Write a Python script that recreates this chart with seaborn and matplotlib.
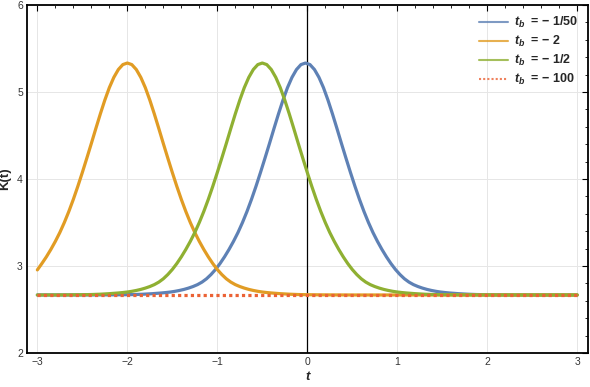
import matplotlib
matplotlib.use('Agg')
import matplotlib.pyplot as plt
import seaborn as sns
from matplotlib.ticker import MultipleLocator

# valores, um par (t, K) por ponto
t_tb_1_50 = [-3.0, -2.52, -2.22, -2.02, -1.92, -1.82, -1.72,
             -1.62, -1.57, -1.52, -1.47, -1.42, -1.37, -1.32, -1.27, -1.22, -1.17,
             -1.12, -1.07, -1.02, -0.97, -0.92, -0.87, -0.82, -0.77, -0.72, -0.67,
             -0.62, -0.57, -0.52, -0.47, -0.42, -0.37, -0.32, -0.27, -0.22, -0.17,
             -0.12, -0.07, -0.02, 0.03, 0.08, 0.13, 0.18, 0.23, 0.28, 0.33,
             0.38, 0.43, 0.48, 0.53, 0.58, 0.63, 0.68, 0.73, 0.78, 0.83,
             0.88, 0.93, 0.98, 1.03, 1.08, 1.13, 1.18, 1.23, 1.28, 1.33,
             1.38, 1.43, 1.48, 1.53, 1.58,
             1.68, 1.78, 1.88, 1.98, 2.18, 2.48, 3.0]
k_tb_1_50 = [2.667, 2.667, 2.668, 2.670, 2.672, 2.676, 2.682,
             2.690, 2.695, 2.701, 2.709, 2.719, 2.731, 2.746, 2.764, 2.786, 2.815,
             2.853, 2.902, 2.960, 3.028, 3.105, 3.190, 3.283, 3.385, 3.500, 3.627,
             3.766, 3.916, 4.075, 4.240, 4.408, 4.580, 4.748, 4.907, 5.050, 5.168,
             5.258, 5.315, 5.333, 5.315, 5.258, 5.168, 5.050, 4.907, 4.748, 4.580,
             4.408, 4.240, 4.075, 3.916, 3.766, 3.627, 3.500, 3.385, 3.283, 3.190,
             3.105, 3.028, 2.960, 2.902, 2.853, 2.815, 2.786, 2.764, 2.746, 2.731,
             2.719, 2.709, 2.701, 2.695, 2.690,
             2.682, 2.676, 2.672, 2.670, 2.668, 2.667, 2.667]

t_tb_2 = [-3.00, -2.95, -2.90, -2.85, -2.80, -2.75, -2.70, -2.65, -2.60, -2.55,
          -2.50, -2.45, -2.40, -2.35, -2.30, -2.25, -2.20, -2.15, -2.10, -2.05,
          -2.00, -1.95, -1.90, -1.85, -1.80, -1.75, -1.70, -1.65, -1.60, -1.55,
          -1.50, -1.45, -1.40, -1.35, -1.30, -1.25, -1.20, -1.15, -1.10, -1.05,
          -1.00, -0.95, -0.90, -0.85, -0.80, -0.75, -0.70, -0.65, -0.60, -0.55,
          -0.50, -0.45, -0.40,
          -0.30, -0.20, -0.10, 0.00, 0.20, 0.50, 3.00]
k_tb_2 = [2.955, 3.028, 3.105, 3.190, 3.283, 3.385, 3.500, 3.627, 3.766, 3.916,
          4.075, 4.240, 4.408, 4.580, 4.748, 4.907, 5.050, 5.168, 5.258, 5.315,
          5.333, 5.315, 5.258, 5.168, 5.050, 4.907, 4.748, 4.580, 4.408, 4.240,
          4.075, 3.916, 3.766, 3.627, 3.500, 3.385, 3.283, 3.190, 3.105, 3.028,
          2.960, 2.902, 2.853, 2.815, 2.786, 2.764, 2.746, 2.731, 2.719, 2.709,
          2.701, 2.695, 2.690,
          2.682, 2.676, 2.672, 2.670, 2.668, 2.667, 2.667]

t_tb_1_2 = [-3.0, -2.7, -2.5, -2.4, -2.3, -2.2,
            -2.10, -2.05, -2.00, -1.95, -1.90, -1.85, -1.80, -1.75, -1.70, -1.65,
            -1.60, -1.55, -1.50, -1.45, -1.40, -1.35, -1.30, -1.25, -1.20, -1.15,
            -1.10, -1.05, -1.00, -0.95, -0.90, -0.85, -0.80, -0.75, -0.70, -0.65,
            -0.60, -0.55, -0.50, -0.45, -0.40, -0.35, -0.30, -0.25, -0.20, -0.15,
            -0.10, -0.05, 0.00, 0.05, 0.10, 0.15, 0.20, 0.25, 0.30, 0.35,
            0.40, 0.45, 0.50, 0.55, 0.60, 0.65, 0.70, 0.75, 0.80, 0.85,
            0.90, 0.95, 1.00, 1.05, 1.10,
            1.2, 1.3, 1.4, 1.5, 1.7, 2.0, 3.0]
k_tb_1_2 = [2.667, 2.668, 2.670, 2.672, 2.676, 2.682,
            2.690, 2.695, 2.701, 2.709, 2.719, 2.731, 2.746, 2.764, 2.786, 2.815,
            2.853, 2.902, 2.960, 3.028, 3.105, 3.190, 3.283, 3.385, 3.500, 3.627,
            3.766, 3.916, 4.075, 4.240, 4.408, 4.580, 4.748, 4.907, 5.050, 5.168,
            5.258, 5.315, 5.333, 5.315, 5.258, 5.168, 5.050, 4.907, 4.748, 4.580,
            4.408, 4.240, 4.075, 3.916, 3.766, 3.627, 3.500, 3.385, 3.283, 3.190,
            3.105, 3.028, 2.960, 2.902, 2.853, 2.815, 2.786, 2.764, 2.746, 2.731,
            2.719, 2.709, 2.701, 2.695, 2.690,
            2.682, 2.676, 2.672, 2.670, 2.668, 2.667, 2.667]

t_tb_100 = [-3.0, 3.0]
k_tb_100 = [2.667, 2.667]

rotulos = [r'$t_b$  = − 1/50', r'$t_b$  = − 2', r'$t_b$  = − 1/2', r'$t_b$  = − 100']
cores = ['#5E81B5', '#E19C24', '#8FB032', '#EB6235']

sns.set_style('white')
plt.rcParams['font.family'] = ['Liberation Sans', 'DejaVu Sans']
plt.rcParams['mathtext.fontset'] = 'custom'
plt.rcParams['mathtext.it'] = 'Liberation Sans:bold:italic'
plt.rcParams['mathtext.rm'] = 'Liberation Sans:bold'

fig = plt.figure(figsize=(5.9, 3.87), dpi=100)
ax = fig.add_axes([27 / 590, 34 / 387, 561 / 590, 348 / 387])

ax.axvline(0, color='black', lw=0.9, zorder=1.5)

sns.lineplot(x=t_tb_1_50, y=k_tb_1_50, color=cores[0], lw=2.3, label=rotulos[0], ax=ax)
sns.lineplot(x=t_tb_2, y=k_tb_2, color=cores[1], lw=2.3, label=rotulos[1], ax=ax)
sns.lineplot(x=t_tb_1_2, y=k_tb_1_2, color=cores[2], lw=2.3, label=rotulos[2], ax=ax)
sns.lineplot(x=t_tb_100, y=k_tb_100, color=cores[3], lw=2.3, label=rotulos[3], ax=ax,
             linestyle=(0, (1, 1)))

ax.set_xlim(-3.115, 3.12)
ax.set_ylim(2, 6)
ax.xaxis.set_major_locator(MultipleLocator(1))
ax.xaxis.set_minor_locator(MultipleLocator(0.2))
ax.yaxis.set_major_locator(MultipleLocator(1))
ax.yaxis.set_minor_locator(MultipleLocator(0.2))
ax.tick_params(which='both', direction='in', top=True, right=True, color='black',
               labelsize=7.5, labelcolor='#333333')
ax.tick_params(which='major', length=4, width=0.8, pad=3)
ax.tick_params(which='minor', length=2, width=0.6)
ax.grid(True, which='major', color='#e6e6e6', lw=0.7)
ax.set_axisbelow(True)
for lado in ax.spines.values():
    lado.set_color('black')
    lado.set_linewidth(1.3)

ax.set_xlabel('t', fontstyle='italic', fontweight='bold', fontsize=9.5, labelpad=3)
ax.set_ylabel('K(t)', fontweight='bold', fontsize=9.5, labelpad=4)

leg = ax.legend(loc='upper right', frameon=False, prop={'weight': 'bold', 'size': 9},
                handlelength=2.3, handletextpad=0.5, labelspacing=0.32, borderaxespad=0.4)
for linha in leg.get_lines():
    linha.set_linewidth(1.5)
    linha.set_alpha(0.8)

plt.savefig('out.png', dpi=100)
